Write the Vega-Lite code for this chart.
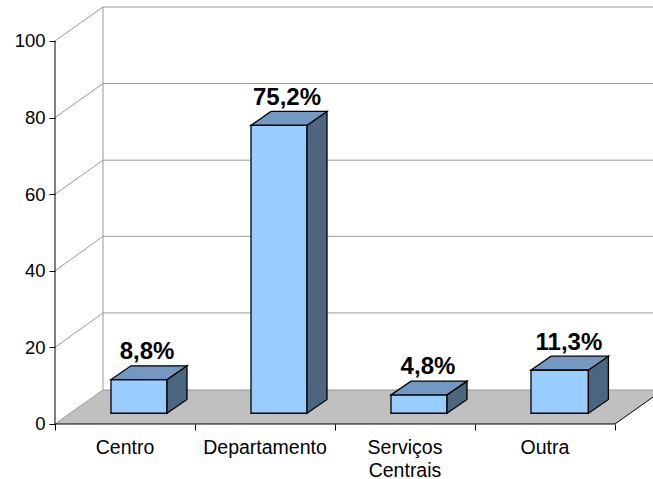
{
"$schema":"https://vega.github.io/schema/vega-lite/v6.json",
"width":653,"height":479,"padding":0,"autosize":"none","background":"white",
"config":{"view":{"stroke":null},"font":"Liberation Sans"},
"datasets":{
"floor":[{"u":0.5,"low":0,"high":0},{"u":0.8429,"low":0,"high":8.88},{"u":4.5,"low":0,"high":8.88},{"u":4.8429,"low":8.88,"high":8.88}],
"grid":[
{"level":"floor","u":0.5,"low":0},{"level":"floor","u":0.8429,"low":8.88},{"level":"floor","u":4.8429,"low":8.88},
{"level":"20","u":0.5,"low":20},{"level":"20","u":0.8429,"low":29},{"level":"20","u":4.8429,"low":29},
{"level":"40","u":0.5,"low":40},{"level":"40","u":0.8429,"low":49},{"level":"40","u":4.8429,"low":49},
{"level":"60","u":0.5,"low":60},{"level":"60","u":0.8429,"low":68.88},{"level":"60","u":4.8429,"low":68.88},
{"level":"80","u":0.5,"low":80},{"level":"80","u":0.8429,"low":88.88},{"level":"80","u":4.8429,"low":88.88},
{"level":"100","u":0.5,"low":100},{"level":"100","u":0.8429,"low":108.88},{"level":"100","u":4.8429,"low":108.88},
{"level":"wall","u":0.8429,"low":8.88},{"level":"wall","u":0.8429,"low":108.88}
],
"axisLines":[
{"line":"y","u":0.5,"low":0},{"line":"y","u":0.5,"low":100},
{"line":"x","u":0.5,"low":0},{"line":"x","u":4.5,"low":0},{"line":"x","u":4.8429,"low":8.88}
],
"faces":[
{"category":"Centro","face":"front","u":0.9,"low":2.8,"high":11.6},{"category":"Centro","face":"front","u":1.3,"low":2.8,"high":11.6},
{"category":"Centro","face":"side","u":1.3,"low":2.8,"high":11.6},{"category":"Centro","face":"side","u":1.4429,"low":6.4,"high":15.2},
{"category":"Centro","face":"top","u":0.9,"low":11.6,"high":11.6},{"category":"Centro","face":"top","u":1.0429,"low":11.6,"high":15.2},{"category":"Centro","face":"top","u":1.3,"low":11.6,"high":15.2},{"category":"Centro","face":"top","u":1.4429,"low":15.2,"high":15.2},
{"category":"Departamento","face":"front","u":1.9,"low":2.8,"high":78},{"category":"Departamento","face":"front","u":2.3,"low":2.8,"high":78},
{"category":"Departamento","face":"side","u":2.3,"low":2.8,"high":78},{"category":"Departamento","face":"side","u":2.4429,"low":6.4,"high":81.6},
{"category":"Departamento","face":"top","u":1.9,"low":78,"high":78},{"category":"Departamento","face":"top","u":2.0429,"low":78,"high":81.6},{"category":"Departamento","face":"top","u":2.3,"low":78,"high":81.6},{"category":"Departamento","face":"top","u":2.4429,"low":81.6,"high":81.6},
{"category":"Serviços Centrais","face":"front","u":2.9,"low":2.8,"high":7.6},{"category":"Serviços Centrais","face":"front","u":3.3,"low":2.8,"high":7.6},
{"category":"Serviços Centrais","face":"side","u":3.3,"low":2.8,"high":7.6},{"category":"Serviços Centrais","face":"side","u":3.4429,"low":6.4,"high":11.2},
{"category":"Serviços Centrais","face":"top","u":2.9,"low":7.6,"high":7.6},{"category":"Serviços Centrais","face":"top","u":3.0429,"low":7.6,"high":11.2},{"category":"Serviços Centrais","face":"top","u":3.3,"low":7.6,"high":11.2},{"category":"Serviços Centrais","face":"top","u":3.4429,"low":11.2,"high":11.2},
{"category":"Outra","face":"front","u":3.9,"low":2.8,"high":14.1},{"category":"Outra","face":"front","u":4.31,"low":2.8,"high":14.1},
{"category":"Outra","face":"side","u":4.31,"low":2.8,"high":14.1},{"category":"Outra","face":"side","u":4.4529,"low":6.4,"high":17.7},
{"category":"Outra","face":"top","u":3.9,"low":14.1,"high":14.1},{"category":"Outra","face":"top","u":4.0429,"low":14.1,"high":17.7},{"category":"Outra","face":"top","u":4.31,"low":14.1,"high":17.7},{"category":"Outra","face":"top","u":4.4529,"low":17.7,"high":17.7}
],
"values":[
{"label":"8,8%","u":1.157,"low":18.8},
{"label":"75,2%","u":2.157,"low":85.2},
{"label":"4,8%","u":3.164,"low":14.9},
{"label":"11,3%","u":4.171,"low":21.2}
],
"categories":[
{"label":"Centro","u":1,"low":-3.9},
{"label":"Departamento","u":2,"low":-3.9},
{"label":"Serviços","u":3,"low":-3.9},
{"label":"Centrais","u":3,"low":-9.9},
{"label":"Outra","u":4,"low":-3.9}
]
},
"encoding":{
"x":{"field":"u","type":"quantitative","scale":{"domain":[0.10714,4.77143],"nice":false,"zero":false},
"axis":{"title":null,"grid":false,"domain":false,"values":[0.5,1.5,2.5,3.5,4.5],"labels":false,"ticks":true,"tickSize":6,"tickColor":"#000000","tickWidth":1,"offset":-55}},
"y":{"field":"low","type":"quantitative","scale":{"domain":[-14.36,110.7],"nice":false,"zero":false},
"axis":{"title":null,"grid":false,"domain":false,"values":[0,20,40,60,80,100],"tickSize":6,"tickColor":"#000000","tickWidth":1,"labelFontSize":18.5,"labelColor":"#000000","labelPadding":4,"labelFont":"Liberation Sans","offset":-55}}
},
"layer":[
{"data":{"name":"floor"},"mark":{"type":"area","color":"#C0C0C0","clip":true},"encoding":{"y2":{"field":"high"}}},
{"data":{"name":"grid"},"mark":{"type":"line","color":"#999999","strokeWidth":1,"clip":true},"encoding":{"detail":{"field":"level"}}},
{"data":{"name":"axisLines"},"mark":{"type":"line","color":"#000000","strokeWidth":1,"clip":true},"encoding":{"detail":{"field":"line"}}},
{"data":{"name":"faces"},"mark":{"type":"area","stroke":"#000000","strokeWidth":1.3,"strokeJoin":"miter"},
"encoding":{"y2":{"field":"high"},"detail":{"field":"category"},
"fill":{"field":"face","type":"nominal","legend":null,"scale":{"domain":["front","side","top"],"range":["#99CCFF","#4D6680","#7399C2"]}}}},
{"data":{"name":"values"},"mark":{"type":"text","fontSize":24,"fontWeight":"bold","color":"#000000","align":"center","baseline":"middle"},"encoding":{"text":{"field":"label"}}},
{"data":{"name":"categories"},"mark":{"type":"text","fontSize":19.5,"color":"#000000","align":"center","baseline":"top"},"encoding":{"text":{"field":"label"}}}
]
}
